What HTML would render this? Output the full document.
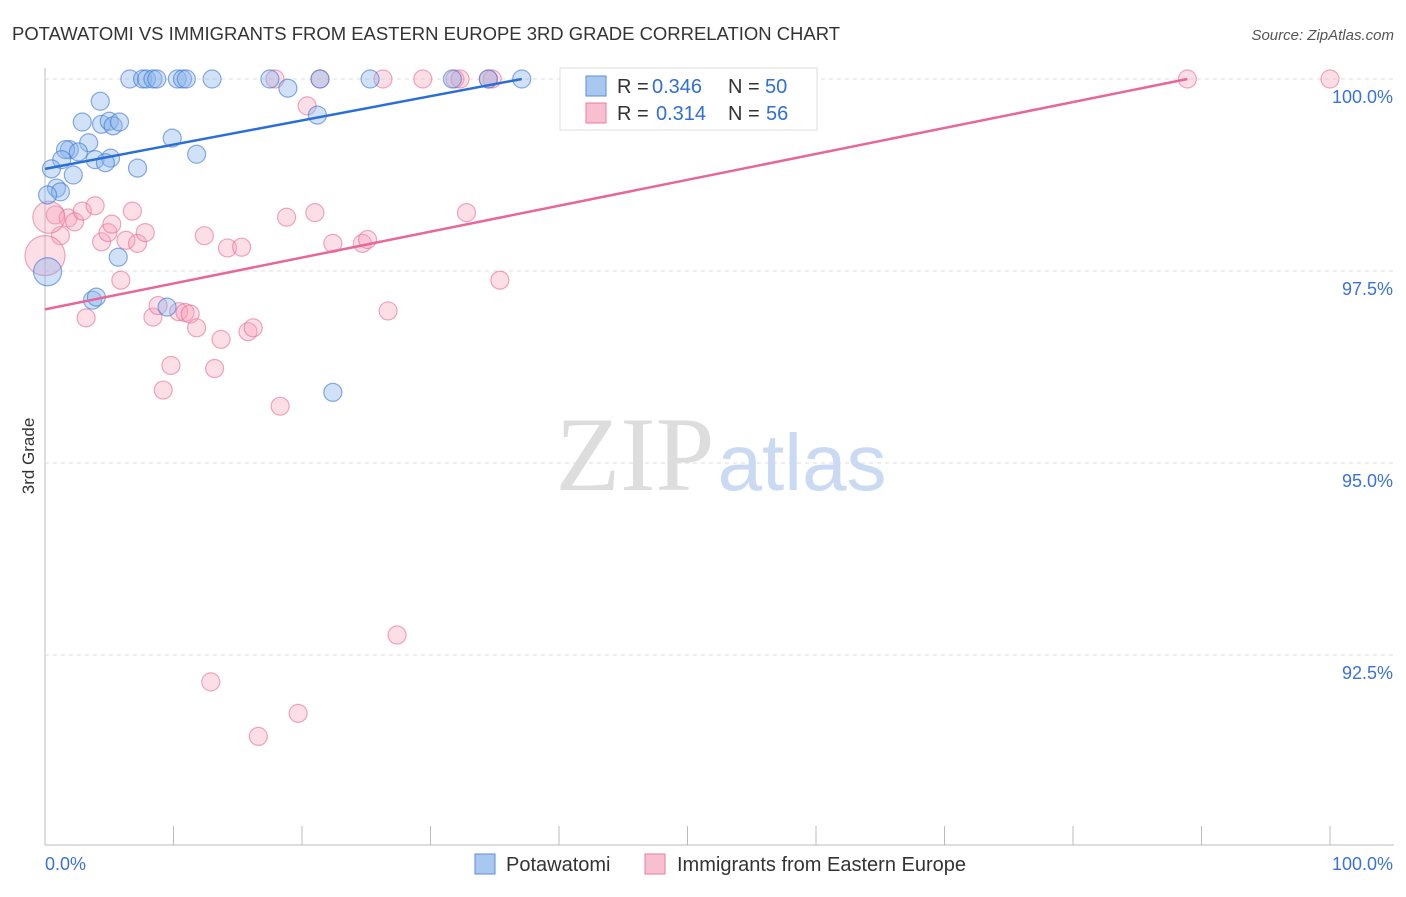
<!DOCTYPE html>
<html><head><meta charset="utf-8"><style>
body{margin:0;background:#fff;font-family:"Liberation Sans",sans-serif;}
</style></head><body>
<svg width="1406" height="892" viewBox="0 0 1406 892" xmlns="http://www.w3.org/2000/svg">
<text x="12" y="40" font-size="18" fill="#333" textLength="828" lengthAdjust="spacingAndGlyphs">POTAWATOMI VS IMMIGRANTS FROM EASTERN EUROPE 3RD GRADE CORRELATION CHART</text>
<text x="1394" y="40" font-size="15" fill="#555" text-anchor="end" font-style="italic">Source: ZipAtlas.com</text>
<g id="grid"></g>
<text x="635" y="490" font-size="106" fill="#ddd" font-family="Liberation Serif,serif" text-anchor="middle">ZIP</text>
<text x="802" y="490" font-size="80" fill="#c9daf2" text-anchor="middle">atlas</text>
<text x="34" y="456" font-size="17" fill="#333" transform="rotate(-90 34 456)" text-anchor="middle">3rd Grade</text>
<g id="pts"></g>
<g id="lines"></g>
<g>
<rect x="560" y="68" width="257" height="62" fill="#fff" stroke="#ddd"/>
<rect x="586" y="76" width="20" height="20" fill="#a8c8f0" stroke="#5b8fd6"/>
<rect x="586" y="103" width="20" height="20" fill="#f8bfd0" stroke="#e77fa0"/>
<text x="617" y="93" font-size="20" fill="#333">R =</text>
<text x="652" y="93" font-size="20" fill="#2f6fd6">0.346</text>
<text x="728" y="93" font-size="20" fill="#333">N =</text>
<text x="765" y="93" font-size="20" fill="#2f6fd6">50</text>
<text x="617" y="120" font-size="20" fill="#333">R =</text>
<text x="656" y="120" font-size="20" fill="#2f6fd6">0.314</text>
<text x="728" y="120" font-size="20" fill="#333">N =</text>
<text x="766" y="120" font-size="20" fill="#2f6fd6">56</text>
</g>
<g>
<rect x="475" y="854" width="20" height="20" fill="#a8c8f0" stroke="#5b8fd6"/>
<text x="506" y="871" font-size="20" fill="#333">Potawatomi</text>
<rect x="645" y="854" width="20" height="20" fill="#f8bfd0" stroke="#e77fa0"/>
<text x="677" y="871" font-size="20" fill="#333">Immigrants from Eastern Europe</text>
</g>
</svg>
<script>
const xTicks=[0,10,20,30,40,50,60,70,80,90,100];
const yTicks=[100,97.5,95,92.5];
const yTickLabels=["100.0%","97.5%","95.0%","92.5%"];
const blueX=[6.6,7.6,7.9,8.4,8.7,10.3,10.7,11.0,13.0,17.5,21.4,25.3,31.7,34.5,37.1,18.9,4.3,2.9,4.4,5.0,5.3,5.8,9.9,3.4,1.9,1.6,2.6,1.3,3.9,5.1,4.7,11.8,7.2,0.5,2.2,0.9,1.2,0.2,21.2,5.7,3.7,4.0,9.5,22.4,0.2];
const blueY=[100,100,100,100,100,100,100,100,100,100,100,100,100,100,100,99.88,99.71,99.44,99.41,99.45,99.39,99.44,99.23,99.17,99.08,99.08,99.05,98.95,98.95,98.97,98.91,99.02,98.84,98.83,98.75,98.58,98.53,98.49,99.53,97.68,97.12,97.16,97.03,95.92,97.49];
const blueR=[9,9,9,9,9,9,9,9,9,9,9,9,9,9,9,9,9,9,9,9,9,9,9,9,9,9,9,9,9,9,9,9,9,9,9,9,9,9,9,9,9,9,9,9,14];
const pinkX=[17.9,21.4,26.3,29.4,31.9,32.3,34.8,34.5,88.9,100,20.4,0.8,1.8,2.3,2.9,3.9,6.8,1.2,4.4,4.9,5.2,6.3,7.2,7.8,12.4,14.2,15.3,18.8,21.0,22.4,24.7,25.1,32.8,35.4,0,5.9,3.2,8.4,8.8,10.4,10.9,11.3,11.8,13.7,15.8,16.2,26.7,9.8,13.2,9.2,18.3,27.4,12.9,19.7,16.6,0.3];
const pinkY=[100,100,100,100,100,100,100,100,100,100,99.65,98.23,98.19,98.14,98.28,98.35,98.28,97.96,97.88,98.0,98.11,97.9,97.86,98.0,97.96,97.8,97.81,98.2,98.26,97.86,97.86,97.91,98.26,97.38,97.7,97.38,96.89,96.9,97.05,96.97,96.96,96.94,96.76,96.61,96.71,96.76,96.98,96.27,96.23,95.95,95.74,92.76,92.15,91.74,91.44,98.2];
const pinkR=[9,9,9,9,9,9,9,9,9,9,9,9,9,9,9,9,9,9,9,9,9,9,9,9,9,9,9,9,9,9,9,9,9,9,20,9,9,9,9,9,9,9,9,9,9,9,9,9,9,9,9,9,9,9,9,16];
const blueLine=[98.83,100];const blueLineX=[0,37.1];
const pinkLine=[97.0,100];const pinkLineX=[0,88.9];
const X0=45,X1=1330,Y100=79,PX=76.8;
const sx=v=>X0+(X1-X0)*v/100, sy=v=>Y100+(100-v)*PX;
const NS="http://www.w3.org/2000/svg";
function mk(t,a,p){const e=document.createElementNS(NS,t);for(const k in a)e.setAttribute(k,a[k]);p.appendChild(e);return e;}
const g=document.getElementById('grid');
mk('line',{x1:45,y1:68,x2:45,y2:845,stroke:'#bbb'},g);
mk('line',{x1:45,y1:845,x2:1394,y2:845,stroke:'#bbb'},g);
yTicks.forEach((t,i)=>{
 const l=mk('line',{x1:45,y1:sy(t),x2:1394,y2:sy(t),stroke:'#ddd','stroke-dasharray':'4,4'},g);
 
 
 const tx=mk('text',{x:1393,y:sy(t)+24,'font-size':18,fill:'#3a72d8','text-anchor':'end'},g);
 tx.textContent=yTickLabels[i];
 
 
});
xTicks.forEach(t=>{
 const l=mk('line',{x1:sx(t),y1:826,x2:sx(t),y2:845,stroke:'#bbb'},g);
 
 
});
const a=mk('text',{x:45,y:870,'font-size':18,fill:'#3a72d8'},g);a.textContent='0.0%';


const b=mk('text',{x:1393,y:870,'font-size':18,fill:'#3a72d8','text-anchor':'end'},g);b.textContent='100.0%';


const P=document.getElementById('pts');
pinkX.forEach((x,i)=>{
 const c=mk('circle',{cx:sx(x),cy:sy(pinkY[i]),r:pinkR[i],fill:'rgba(245,160,185,0.35)',stroke:'rgba(230,110,150,0.6)','stroke-width':1.2},P);
 
 
});
blueX.forEach((x,i)=>{
 const c=mk('circle',{cx:sx(x),cy:sy(blueY[i]),r:blueR[i],fill:'rgba(140,180,235,0.4)',stroke:'rgba(60,120,210,0.6)','stroke-width':1.2},P);
 
 
});
const L=document.getElementById('lines');
const bl=mk('line',{x1:sx(blueLineX[0]),y1:sy(blueLine[0]),x2:sx(blueLineX[1]),y2:sy(blueLine[1]),stroke:'#2a6fd6','stroke-width':2.5},L);


const pl=mk('line',{x1:sx(pinkLineX[0]),y1:sy(pinkLine[0]),x2:sx(pinkLineX[1]),y2:sy(pinkLine[1]),stroke:'#e8679a','stroke-width':2.5},L);


</script>
</body></html>
